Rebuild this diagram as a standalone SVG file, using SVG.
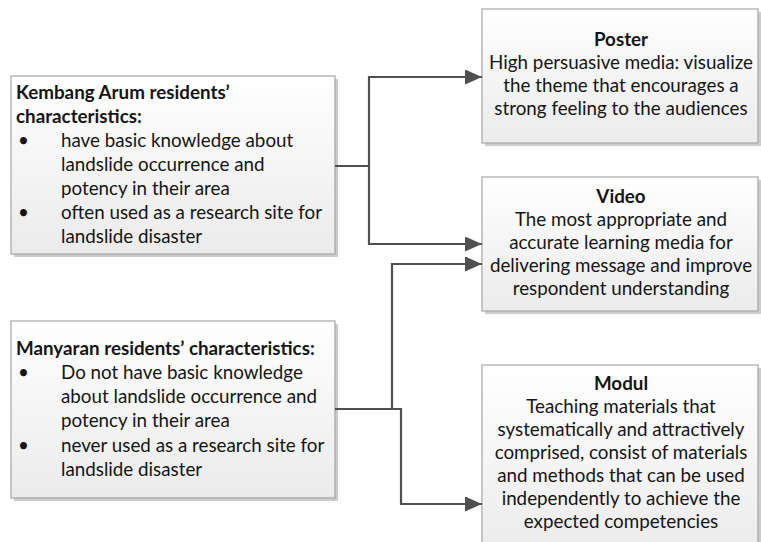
<svg xmlns="http://www.w3.org/2000/svg" width="761" height="542" viewBox="0 0 761 542">
<defs>
<linearGradient id="g" x1="0" y1="0" x2="0" y2="1">
<stop offset="0" stop-color="#ffffff"/>
<stop offset="1" stop-color="#ebebeb"/>
</linearGradient>
<marker id="arr" markerUnits="userSpaceOnUse" markerWidth="17" markerHeight="15" refX="17" refY="7.5" orient="auto">
<path d="M0,0 L17,7.5 L0,15 z" fill="#505050"/>
</marker>
<style>
.box{fill:url(#g);stroke:#a6a6a6;stroke-width:1.2}
.sh{fill:#cdcdcd}
text{font-family:Lato,"Liberation Sans",sans-serif;font-size:18.8px;fill:#151515}
.b{font-weight:bold}
.c{text-anchor:middle}
.con{fill:none;stroke:#505050;stroke-width:2.2}
</style>
</defs>
<rect width="761" height="542" fill="#ffffff"/>
<g id="kembang">
<rect class="sh" x="14" y="79" width="324" height="178"/>
<rect class="box" x="11" y="76" width="324" height="178"/>
<text class="b" x="16" y="99">Kembang Arum residents’</text>
<text class="b" x="16" y="123">characteristics:</text>
<text x="18" y="147">•</text>
<text x="61" y="147">have basic knowledge about</text>
<text x="61" y="171">landslide occurrence and</text>
<text x="61" y="195">potency in their area</text>
<text x="18" y="219">•</text>
<text x="61" y="219">often used as a research site for</text>
<text x="61" y="243">landslide disaster</text>
</g>
<g id="manyaran">
<rect class="sh" x="14" y="324" width="324" height="177"/>
<rect class="box" x="11" y="321" width="324" height="177"/>
<text class="b" x="16" y="355">Manyaran residents’ characteristics:</text>
<text x="18" y="379">•</text>
<text x="61" y="379">Do not have basic knowledge</text>
<text x="61" y="403">about landslide occurrence and</text>
<text x="61" y="427">potency in their area</text>
<text x="18" y="452">•</text>
<text x="61" y="452">never used as a research site for</text>
<text x="61" y="476">landslide disaster</text>
</g>
<g id="poster">
<rect class="sh" x="485" y="12" width="276" height="134"/>
<rect class="box" x="482" y="9" width="276" height="134"/>
<text class="b c" x="621" y="46">Poster</text>
<text class="c" x="621" y="69">High persuasive media: visualize</text>
<text class="c" x="621" y="92">the theme that encourages a</text>
<text class="c" x="621" y="115">strong feeling to the audiences</text>
</g>
<g id="video">
<rect class="sh" x="485" y="180" width="276" height="134"/>
<rect class="box" x="482" y="177" width="276" height="134"/>
<text class="b c" x="621" y="203">Video</text>
<text class="c" x="621" y="226">The most appropriate and</text>
<text class="c" x="621" y="249">accurate learning media for</text>
<text class="c" x="621" y="272">delivering message and improve</text>
<text class="c" x="621" y="295">respondent understanding</text>
</g>
<g id="modul">
<rect class="sh" x="485" y="368" width="276" height="190"/>
<rect class="box" x="482" y="365" width="276" height="190"/>
<text class="b c" x="621" y="390">Modul</text>
<text class="c" x="621" y="413">Teaching materials that</text>
<text class="c" x="621" y="436">systematically and attractively</text>
<text class="c" x="621" y="459">comprised, consist of materials</text>
<text class="c" x="621" y="482">and methods that can be used</text>
<text class="c" x="621" y="505">independently to achieve the</text>
<text class="c" x="621" y="528">expected competencies</text>
</g>
<g id="connectors">
<path class="con" d="M335,166 H369 V77 H482" marker-end="url(#arr)"/>
<path class="con" d="M369,166 V244 H482" marker-end="url(#arr)"/>
<path class="con" d="M335,409 H392 V264 H482" marker-end="url(#arr)"/>
<path class="con" d="M392,409 H401 V504 H482" marker-end="url(#arr)"/>
</g>
</svg>
